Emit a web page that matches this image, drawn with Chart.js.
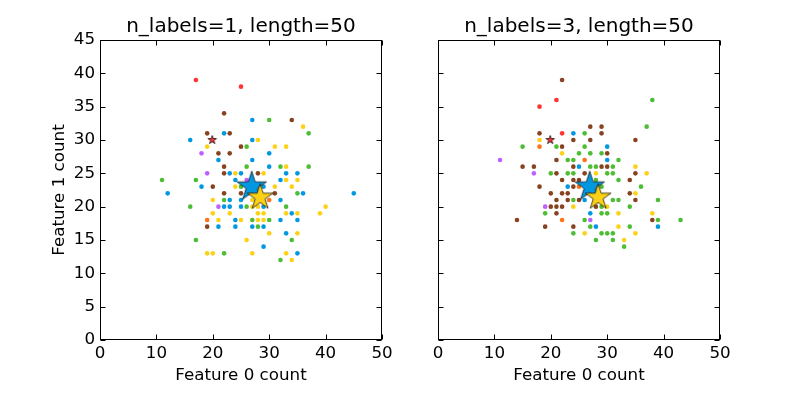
<!DOCTYPE html>
<html>
<head>
<meta charset="utf-8">
<script src="https://cdn.jsdelivr.net/npm/chart.js@4.4.1/dist/chart.umd.min.js"></script>
<style>
    html, body { margin: 0; padding: 0; background: #fff; }
    #wrap { position: relative; width: 800px; height: 400px; }
    canvas { position: absolute; top: 0; }
</style>
</head>
<body>
<div id="wrap">
    <canvas id="leftChart" width="400" height="400" style="left:0"></canvas>
    <canvas id="rightChart" width="400" height="400" style="left:400px"></canvas>
</div>
<script>
"use strict";

// Label combinations (which classes a sample belongs to)
const labelSets = ['0', '1', '0+1', '2', '0+2', '1+2', '0+1+2'];

// n_labels=1 - samples as [feature 0 count, feature 1 count]
const leftRed = [[17, 39], [25, 38]];
const leftBlue = [[22, 31], [16, 30], [21, 27], [23, 25], [25, 25], [24, 24], [18, 23], [12, 22], [23, 21], [25, 21],
    [22, 20], [23, 20], [25, 20], [24, 18], [21, 17], [24, 17], [27, 33], [27, 30], [30, 28], [27, 27], [30, 26],
    [33, 25], [35, 25], [32, 24], [29, 23], [36, 22], [45, 22], [32, 21], [29, 20], [34, 19], [32, 18], [35, 18],
    [27, 17], [29, 17], [33, 16], [29, 14], [35, 13]];
const leftPurple = [[18, 28], [19, 25], [26, 24], [21, 20]];
const leftYellow = [[19, 29], [24, 25], [24, 23], [20, 21], [28, 30], [31, 29], [33, 29], [36, 32], [33, 26], [29, 25],
    [33, 24], [35, 24], [31, 23], [34, 23], [27, 21], [20, 19], [23, 19], [21, 18], [27, 20], [28, 20], [40, 20],
    [28, 19], [29, 19], [33, 19], [35, 19], [39, 19], [25, 18], [28, 18], [29, 18], [30, 16], [35, 16], [26, 15],
    [19, 13], [20, 13], [27, 13], [33, 13], [34, 12]];
const leftOrange = [[19, 18], [30, 21]];
const leftGreen = [[11, 24], [17, 24], [22, 21], [16, 20], [17, 15], [22, 13], [30, 33], [37, 31], [26, 29], [26, 26],
    [32, 26], [37, 26], [25, 23], [35, 22], [26, 20], [33, 20], [27, 18], [30, 18], [28, 17], [34, 15], [32, 12]];
const leftBrown = [[22, 34], [19, 31], [23, 31], [25, 29], [21, 28], [23, 28], [22, 26], [22, 25], [20, 23], [22, 22],
    [34, 33], [28, 25], [25, 22], [31, 22], [19, 17]];

// n_labels=3
const rightRed = [[21, 36], [18, 35], [22, 31]];
const rightBlue = [[24, 31], [30, 29], [30, 27], [25, 26], [23, 23], [26, 21], [27, 19], [28, 17], [39, 17]];
const rightPurple = [[11, 27], [17, 25], [19, 20], [27, 18]];
const rightYellow = [[18, 30], [22, 28], [24, 20], [35, 26], [28, 25], [37, 25], [35, 22], [30, 20], [32, 19], [38, 19],
    [32, 17], [26, 16], [35, 16], [33, 15]];
const rightOrange = [[18, 29], [26, 27], [25, 23], [22, 18]];
const rightGreen = [[15, 29], [21, 29], [25, 28], [23, 27], [24, 27], [20, 25], [23, 25], [24, 25], [24, 21], [19, 19],
    [24, 16], [38, 36], [37, 32], [26, 31], [26, 29], [27, 28], [29, 28], [32, 27], [27, 26], [28, 26], [31, 26],
    [30, 25], [31, 25], [28, 24], [32, 24], [29, 23], [36, 23], [31, 21], [32, 21], [39, 21], [29, 20], [34, 20],
    [29, 19], [30, 19], [26, 18], [39, 18], [43, 18], [27, 17], [34, 17], [29, 16], [30, 16], [31, 16], [28, 15],
    [31, 15], [33, 14]];
const rightBrown = [[22, 39], [18, 31], [24, 30], [22, 29], [21, 27], [15, 26], [17, 26], [24, 26], [21, 25], [26, 25],
    [22, 24], [24, 24], [25, 24], [18, 23], [24, 23], [20, 22], [22, 22], [23, 22], [21, 21], [23, 21], [25, 21],
    [20, 20], [21, 20], [22, 20], [28, 20], [21, 19], [14, 18], [38, 18], [19, 17], [24, 17], [27, 32], [29, 32],
    [29, 31], [27, 30], [35, 30], [30, 28], [29, 26], [30, 26], [35, 25], [34, 24], [34, 22], [35, 21]];

// Class centres (expected feature counts per class 0, 1, 2)
const starX = [19.9, 26.9, 28.4];
const starY = [30.0, 23.0, 21.4];

// Tick values
const xTicks = [0, 10, 20, 30, 40, 50];
const yTicks = [0, 5, 10, 15, 20, 25, 30, 35, 40, 45];

// Styles
const colors = ['#FF3333', '#0198E1', '#BF5FFF', '#FCD116', '#FF7216', '#4DBD33', '#87421F'];
const starColors = ['#FF3333', '#0198E1', '#FCD116'];
const starRadius = [4.5, 15.5, 13.5];
const FONT = 'DejaVu Sans';

Chart.defaults.font.family = FONT;
Chart.defaults.font.size = 16.7;
Chart.defaults.color = '#000';

// Skapa en fylld femuddig stjärna som bild för pointStyle
function makeStar(r, fill) {
    const c = document.createElement('canvas');
    const size = Math.ceil(r + 2) * 2;
    c.width = size;
    c.height = size;
    const ctx = c.getContext('2d');
    const cx = size / 2, cy = size / 2;
    ctx.beginPath();
    for (let i = 0; i < 10; i++) {
        const rr = i % 2 === 0 ? r : r * 0.381966;
        const a = -Math.PI / 2 + i * Math.PI / 5;
        ctx.lineTo(cx + rr * Math.cos(a), cy + rr * Math.sin(a));
    }
    ctx.closePath();
    ctx.fillStyle = fill;
    ctx.fill();
    ctx.lineWidth = 0.7;
    ctx.strokeStyle = '#000';
    ctx.stroke();
    return c;
}

// Ram, inåtriktade tickmarkeringar och rubrik
const framePlugin = {
    id: 'frame',
    afterDraw(chart, args, opts) {
        const { ctx, chartArea: a, scales: { x, y } } = chart;
        const L = 5;
        ctx.save();
        ctx.strokeStyle = '#000';
        ctx.lineWidth = 1;
        const l = Math.round(a.left) + 0.5, r = Math.round(a.right) - 0.5;
        const t = Math.round(a.top) + 0.5, b = Math.round(a.bottom) - 0.5;
        ctx.strokeRect(l, t, r - l, b - t);
        ctx.beginPath();
        xTicks.forEach(v => {
            const px = Math.round(x.getPixelForValue(v)) + 0.5;
            ctx.moveTo(px, b); ctx.lineTo(px, b - L);
            ctx.moveTo(px, t); ctx.lineTo(px, t + L);
        });
        yTicks.forEach(v => {
            const py = Math.round(y.getPixelForValue(v)) + 0.5;
            ctx.moveTo(l, py); ctx.lineTo(l + L, py);
            ctx.moveTo(r, py); ctx.lineTo(r - L, py);
        });
        ctx.stroke();
        ctx.fillStyle = '#000';
        ctx.font = '20px "' + FONT + '"';
        ctx.textAlign = 'center';
        ctx.textBaseline = 'middle';
        ctx.fillText(opts.text, (a.left + a.right) / 2, a.top - 13);
        ctx.restore();
    }
};

function toPoints(arr) {
    return arr.map(p => ({ x: p[0], y: p[1] }));
}

function buildChart(el, title, groups, yWidth, padRight, showY) {
    const stars = makeStarDataset();
    const datasets = [stars].concat(groups.map((g, i) => ({
        label: labelSets[i],
        data: toPoints(g),
        backgroundColor: colors[i],
        borderWidth: 0,
        pointRadius: 2.3
    })));

    new Chart(el, {
        type: 'scatter',
        data: { datasets: datasets },
        options: {
            responsive: false,
            animation: false,
            layout: { padding: { top: 40, right: padRight, left: 0, bottom: 0 } },
            plugins: {
                legend: { display: false },
                tooltip: { enabled: false },
                frame: { text: title }
            },
            scales: {
                x: {
                    type: 'linear',
                    min: 0,
                    max: 50,
                    afterBuildTicks: s => { s.ticks = xTicks.map(v => ({ value: v })); },
                    ticks: { padding: 4 },
                    grid: { display: false, drawTicks: false },
                    border: { display: false },
                    title: { display: true, text: 'Feature 0 count', padding: { top: 0, bottom: 14 } },
                    afterFit: s => { s.height = 60; }
                },
                y: {
                    type: 'linear',
                    min: 0,
                    max: 45,
                    afterBuildTicks: s => { s.ticks = yTicks.map(v => ({ value: v })); },
                    ticks: { display: showY, padding: 5 },
                    grid: { display: false, drawTicks: false },
                    border: { display: false },
                    title: { display: showY, text: 'Feature 1 count', padding: { top: 50, bottom: 0 } },
                    afterFit: s => { s.width = yWidth; }
                }
            }
        },
        plugins: [framePlugin]
    });
}

function makeStarDataset() {
    return {
        label: 'centres',
        data: starX.map((v, i) => ({ x: v, y: starY[i] })),
        pointStyle: starColors.map((c, i) => makeStar(starRadius[i], c)),
        pointRadius: 5,
        borderWidth: 0
    };
}

buildChart(document.getElementById('leftChart'), 'n_labels=1, length=50',
    [leftRed, leftBlue, leftPurple, leftYellow, leftOrange, leftGreen, leftBrown], 100, 18, true);
buildChart(document.getElementById('rightChart'), 'n_labels=3, length=50',
    [rightRed, rightBlue, rightPurple, rightYellow, rightOrange, rightGreen, rightBrown], 38, 80, false);
</script>
</body>
</html>
